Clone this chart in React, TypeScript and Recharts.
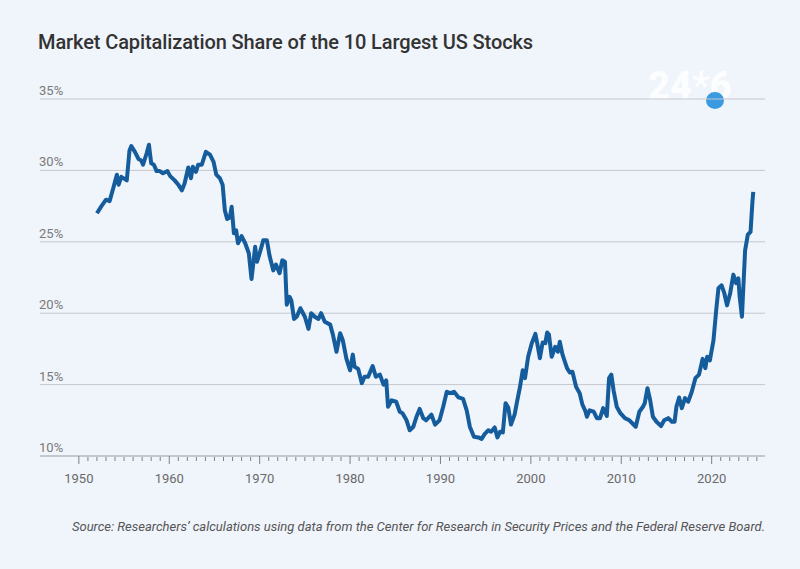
import React from 'react';

import {
  CartesianGrid,
  Line,
  LineChart,
  XAxis,
  YAxis,
} from 'recharts';

const years = [
  1952.0, 1952.5, 1953.0, 1953.4, 1953.8, 1954.2, 1954.4, 1954.7, 1955.3, 1955.6,
  1955.8, 1956.2, 1956.6, 1956.9, 1957.1, 1957.5, 1957.75, 1958.0, 1958.3, 1958.6,
  1958.95, 1959.3, 1959.8, 1960.1, 1960.6, 1961.0, 1961.4, 1961.7, 1962.1, 1962.4,
  1962.6, 1962.95, 1963.2, 1963.6, 1964.05, 1964.5, 1964.9, 1965.2, 1965.6, 1965.9,
  1966.15, 1966.4, 1966.7, 1966.9, 1967.15, 1967.4, 1967.6, 1968.0, 1968.4, 1968.8,
  1969.1, 1969.5, 1969.7, 1970.0, 1970.4, 1970.8, 1971.1, 1971.5, 1971.8, 1972.2,
  1972.5, 1972.8, 1973.0, 1973.3, 1973.5, 1973.8, 1974.1, 1974.5, 1975.0, 1975.4,
  1975.7, 1976.1, 1976.5, 1976.8, 1977.2, 1977.8, 1978.1, 1978.5, 1978.9, 1979.2,
  1979.6, 1980.0, 1980.3, 1980.5, 1980.9, 1981.3, 1981.6, 1982.0, 1982.5, 1982.85,
  1983.3, 1983.7, 1984.0, 1984.2, 1984.6, 1985.1, 1985.5, 1985.8, 1986.25, 1986.6,
  1987.0, 1987.35, 1987.7, 1988.1, 1988.4, 1989.0, 1989.4, 1989.9, 1990.3, 1990.7,
  1991.1, 1991.5, 1992.0, 1992.5, 1992.9, 1993.25, 1993.7, 1994.2, 1994.55, 1994.9,
  1995.3, 1995.6, 1996.0, 1996.3, 1996.6, 1996.9, 1997.2, 1997.5, 1997.8, 1998.2,
  1998.5, 1998.8, 1999.1, 1999.35, 1999.7, 2000.1, 2000.5, 2000.7, 2001.0, 2001.3,
  2001.6, 2001.8, 2002.0, 2002.3, 2002.7, 2003.0, 2003.2, 2003.5, 2004.0, 2004.3,
  2004.6, 2005.0, 2005.4, 2005.7, 2006.0, 2006.2, 2006.5, 2006.95, 2007.3, 2007.65,
  2008.0, 2008.4, 2008.65, 2008.9, 2009.15, 2009.5, 2009.9, 2010.4, 2010.9, 2011.6,
  2012.0, 2012.4, 2012.6, 2012.9, 2013.2, 2013.5, 2013.9, 2014.4, 2014.75, 2015.2,
  2015.6, 2015.9, 2016.1, 2016.4, 2016.7, 2017.05, 2017.4, 2017.8, 2018.2, 2018.6,
  2019.0, 2019.3, 2019.5, 2019.8, 2020.2, 2020.5, 2020.75, 2021.1, 2021.4, 2021.7,
  2022.05, 2022.4, 2022.7, 2022.95, 2023.1, 2023.35, 2023.7, 2024.0, 2024.3, 2024.5,
  2024.6,
];

const shares = [
  27.0, 27.5, 27.95, 27.85, 28.75, 29.7, 29.0, 29.55, 29.3, 31.4,
  31.7, 31.3, 30.8, 30.7, 30.4, 31.2, 31.8, 30.5, 30.4, 29.95,
  29.95, 29.8, 29.95, 29.6, 29.3, 29.0, 28.6, 29.1, 30.2, 29.45,
  30.25, 29.9, 30.4, 30.4, 31.3, 31.1, 30.6, 29.7, 29.45, 29.0,
  27.2, 26.6, 26.7, 27.45, 25.6, 25.8, 24.9, 25.4, 24.9, 24.2,
  22.4, 24.65, 23.6, 24.2, 25.1, 25.1, 24.0, 23.0, 23.4, 22.8,
  23.7, 23.6, 20.6, 21.15, 20.9, 19.6, 19.75, 20.35, 19.75, 18.9,
  20.0, 19.75, 19.6, 20.0, 19.4, 19.2, 18.5, 17.3, 18.6, 18.1,
  16.8, 16.0, 17.1, 16.25, 16.1, 15.1, 15.55, 15.55, 16.3, 15.55,
  15.7, 15.0, 15.3, 13.45, 13.9, 13.8, 13.1, 13.0, 12.5, 11.8,
  12.05, 12.75, 13.3, 12.65, 12.5, 12.9, 12.2, 12.5, 13.45, 14.5,
  14.4, 14.5, 14.1, 14.0, 13.2, 12.05, 11.35, 11.3, 11.2, 11.55,
  11.8, 11.7, 12.0, 11.3, 11.7, 11.65, 13.7, 13.4, 12.2, 12.9,
  13.9, 14.85, 16.0, 15.45, 16.95, 17.9, 18.55, 17.9, 16.85, 17.95,
  17.9, 18.65, 18.5, 16.95, 17.65, 17.3, 18.0, 17.1, 16.15, 15.85,
  15.9, 14.85, 14.4, 13.6, 13.2, 12.75, 13.2, 13.1, 12.65, 12.65,
  13.35, 12.8, 15.45, 15.7, 14.6, 13.45, 13.0, 12.65, 12.5, 12.05,
  13.1, 13.45, 13.7, 14.75, 13.9, 12.75, 12.4, 12.1, 12.5, 12.65,
  12.4, 12.4, 13.45, 14.1, 13.35, 14.05, 13.8, 14.5, 15.45, 15.7,
  16.8, 16.15, 16.95, 16.7, 18.1, 20.2, 21.75, 21.95, 21.4, 20.55,
  21.4, 22.7, 22.1, 22.45, 21.15, 19.75, 24.4, 25.5, 25.7, 27.7,
  28.5,
];

const decadeLabels = [1950, 1960, 1970, 1980, 1990, 2000, 2010, 2020];
const yearTicks = Array.from({ length: 76 }, (_, i) => 1950 + i);
const percentTicks = [10, 15, 20, 25, 30, 35];

const data = years.map((year, i) => ({ year, share: shares[i] }));

const BG = '#f0f4fb';
const LINE = '#155c9c';

const renderXTick = (props: any) => {
  const { x, y, payload } = props;
  const major = decadeLabels.includes(payload.value);
  return (
    <g key={`xt-${payload.value}`}>
      <path
        d={`M${x},${major ? y : y + 1}V${major ? y + 8 : y + 5}`}
        stroke="#7d8087"
        strokeWidth={1}
        fill="none"
      />
      {major && (
        <text
          x={x}
          y={y + 27}
          textAnchor="middle"
          fontSize={13}
          fontFamily="Roboto, sans-serif"
          fill="#6a6a6a"
        >
          {payload.value}
        </text>
      )}
    </g>
  );
};

const renderYTick = (props: any) => {
  const { y, payload } = props;
  return (
    <text
      key={`yt-${payload.value}`}
      x={39}
      y={y - 4}
      textAnchor="start"
      fontSize={13}
      fontFamily="Roboto, sans-serif"
      fill="#7a7a7a"
    >
      {payload.value}%
    </text>
  );
};

function App() {
  return (
    <div
      style={{
        position: 'absolute',
        left: 0,
        top: 0,
        width: 800,
        height: 569,
        background: BG,
        overflow: 'hidden',
      }}
    >
      <div
        style={{
          position: 'absolute',
          left: 38,
          top: 30,
          fontFamily: 'Roboto, sans-serif',
          fontWeight: 500,
          fontSize: 20,
          letterSpacing: -0.1,
          color: '#333333',
          whiteSpace: 'nowrap',
        }}
      >
        Market Capitalization Share of the 10 Largest US Stocks
      </div>
      <div
        style={{
          position: 'absolute',
          left: 648,
          top: 64,
          fontFamily: 'Roboto, sans-serif',
          fontWeight: 900,
          fontSize: 38,
          color: '#ffffff',
          opacity: 0.85,
        }}
      >
        24*6
      </div>
      <div
        style={{
          position: 'absolute',
          left: 706,
          top: 92,
          width: 18,
          height: 17,
          borderRadius: '50%',
          background: '#3a9be0',
        }}
      />
      <div style={{ position: 'absolute', left: 0, top: 0 }}>
        <LineChart
          width={800}
          height={569}
          data={data}
          margin={{ top: 99, right: 35, left: 0, bottom: 73 }}
        >
          <CartesianGrid
            vertical={false}
            stroke="#c5c7cd"
            strokeWidth={1}
          />
          <XAxis
            dataKey="year"
            type="number"
            domain={[1945.7, 2025.9]}
            allowDataOverflow
            ticks={yearTicks}
            interval={0}
            height={40}
            tickSize={0}
            tickMargin={0}
            tickLine={false}
            axisLine={{ stroke: '#aeb0b6' }}
            tick={renderXTick}
          />
          <YAxis
            type="number"
            domain={[10, 35]}
            ticks={percentTicks}
            interval={0}
            width={40}
            axisLine={false}
            tickLine={false}
            tick={renderYTick}
          />
          <Line
            type="linear"
            dataKey="share"
            stroke={LINE}
            strokeWidth={4}
            strokeLinejoin="round"
            dot={false}
            isAnimationActive={false}
          />
        </LineChart>
      </div>
      <div
        style={{
          position: 'absolute',
          right: 35,
          top: 519,
          fontFamily: 'Roboto, sans-serif',
          fontStyle: 'italic',
          fontSize: 13,
          color: '#555555',
          whiteSpace: 'nowrap',
        }}
      >
        Source: Researchers’ calculations using data from the Center for Research in Security Prices and the Federal Reserve Board.
      </div>
    </div>
  );
}

export default App;
